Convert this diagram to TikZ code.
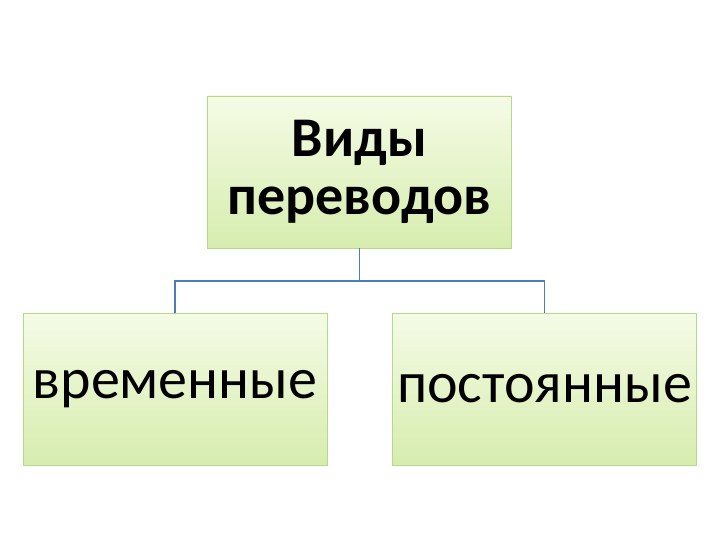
\documentclass[tikz,border=0pt]{standalone}
\usepackage{fontspec}
\setmainfont{Carlito}
\definecolor{bordc}{HTML}{B5D98A}
\definecolor{topc}{HTML}{F5FBE6}
\definecolor{botc}{HTML}{D6EDAE}
\definecolor{linec}{HTML}{4A7EBB}
\newcommand{\dn}[1]{\raisebox{-8pt}{#1}}
\begin{document}
\begin{tikzpicture}[x=1pt,y=-1pt,
  box/.style={draw=bordc,line width=0.8pt,top color=topc,bottom color=botc,minimum width=304pt,minimum height=152pt,inner sep=0pt,align=center,font=\fontsize{58}{58}\selectfont},
  conn/.style={draw=linec,line width=1.5pt}]
\useasboundingbox (0,0) rectangle (720,540);
\node[box,font=\fontsize{56}{58}\selectfont\bfseries] (top) at (359.5,172) {\dn{Виды}\\\dn{переводов}};
\node[box] (l) at (175,389) {\dn{временные}};
\node[box] (r) at (544.5,389) {\dn{постоянные}};
\coordinate (m) at (359.5,281);
\draw[conn] (top.south) -- (m) -| (l.north);
\draw[conn] (m) -| (r.north);
\end{tikzpicture}
\end{document}
